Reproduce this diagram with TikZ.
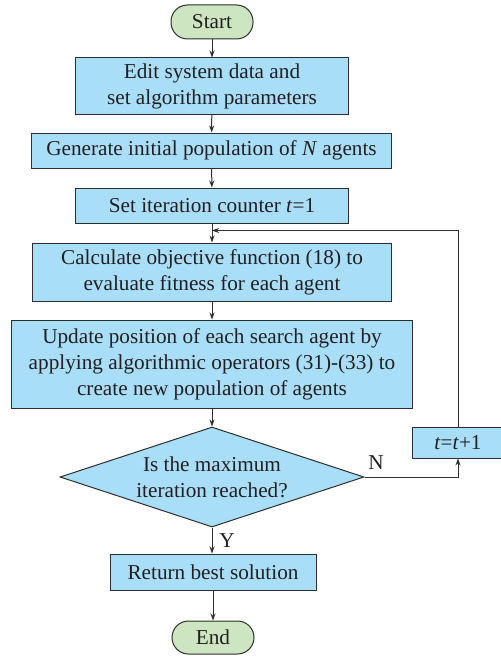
\documentclass[tikz,border=0pt]{standalone}
\usepackage{fontspec}
\setmainfont{Liberation Serif}
\usetikzlibrary{shapes.geometric,arrows.meta}
\definecolor{boxblue}{HTML}{A9DEF8}
\definecolor{termgreen}{HTML}{CDE5C0}
\definecolor{linegray}{HTML}{2E2E2E}
\definecolor{textdark}{HTML}{231F20}
\tikzset{
  every node/.style={font=\fontsize{21.3}{26}\selectfont, text=textdark},
  proc/.style={draw=linegray, line width=1bp, fill=boxblue, inner sep=0pt, align=center},
  term/.style={draw=linegray, line width=1bp, fill=termgreen, inner sep=0pt, rounded corners=16.5bp},
  decide/.style={diamond, draw=linegray, line width=1bp, fill=boxblue, inner sep=0pt, align=center, shape aspect=3},
  conn/.style={draw=linegray, line width=1bp, -{Stealth[length=7bp,width=5bp]}},
  lbl/.style={inner sep=0pt}
}
\begin{document}
\begin{tikzpicture}[x=1bp,y=-1bp]
\useasboundingbox (0,0) rectangle (501,656);
\node[term, minimum width=82bp, minimum height=34bp] (start) at (212,22) {Start};
\node[proc, minimum width=272bp, minimum height=56bp] (edit) at (212,86) {Edit system data and\\set algorithm parameters};
\node[proc, minimum width=359bp, minimum height=35bp] (gen) at (211.5,150.5) {Generate initial population of \textit{N} agents};
\node[proc, minimum width=272bp, minimum height=35bp] (set) at (212,205.5) {Set iteration counter \textit{t}=1};
\node[proc, minimum width=358.5bp, minimum height=58bp] (calc) at (212,272) {Calculate objective function (18) to\\evaluate fitness for each agent};
\node[proc, minimum width=400bp, minimum height=88bp] (upd) at (212,364) {Update position of each search agent by\\applying algorithmic operators (31)-(33) to\\create new population of agents};
\node[decide, minimum width=304bp, minimum height=100bp] (dia) at (212,477) {Is the maximum\\iteration reached?};
\node[proc, minimum width=92bp, minimum height=31bp] (inc) at (458,442.5) {\textit{t}=\textit{t}+1};
\node[proc, minimum width=206bp, minimum height=36bp] (ret) at (213,572) {Return best solution};
\node[term, minimum width=82bp, minimum height=33bp] (end) at (213,637.5) {End};
\coordinate (loop) at (212,230.5);

\draw[conn] (start) -- (edit);
\draw[conn] (edit) -- (gen);
\draw[conn] (gen) -- (set);
\draw[conn] (set) -- (calc);
\draw[conn] (calc) -- (upd);
\draw[conn] (upd) -- (dia);
\draw[conn] (dia.south) -- (ret.north -| dia.south);
\draw[conn] (ret) -- (end);
\draw[conn] (dia.east) -| (inc.south);
\draw[conn] (inc.north) |- (loop);
\node[lbl] (nlab) at (376,463) {N};
\node[lbl] (ylab) at (227,541) {Y};
\end{tikzpicture}
\end{document}
